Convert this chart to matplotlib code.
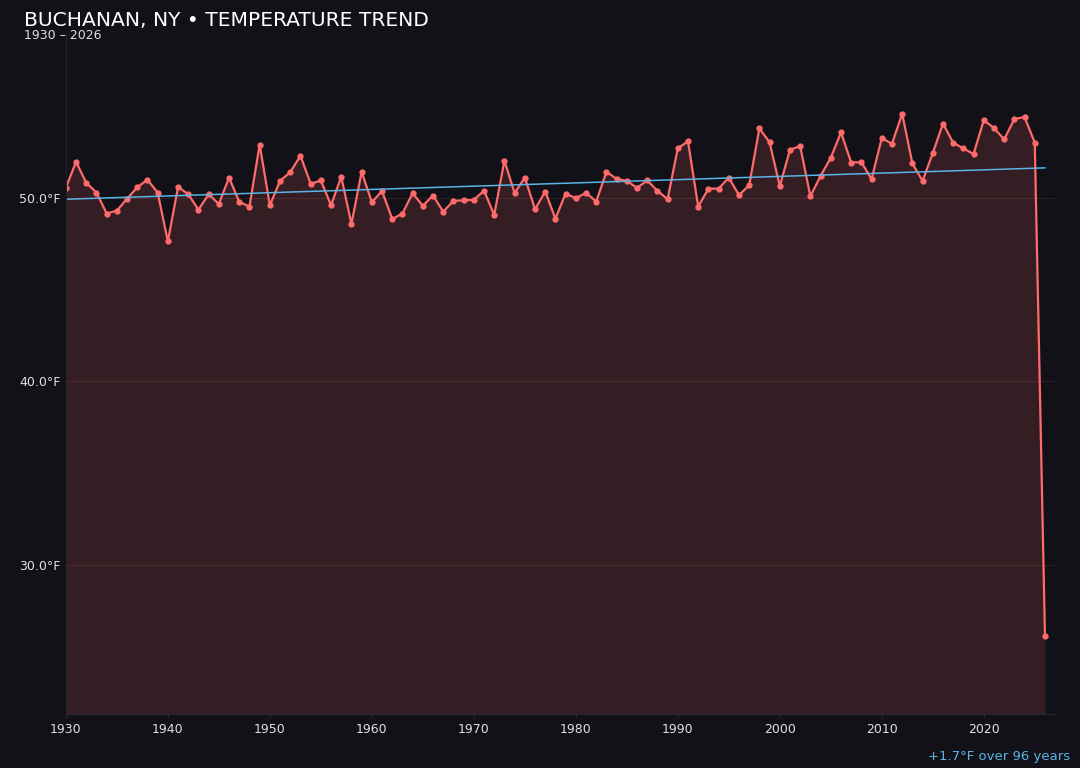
import numpy as np
import matplotlib
matplotlib.use('Agg')
import matplotlib.pyplot as plt

#==========Data==========
years = np.arange(1930, 2027)
temps = [50.53, 51.95, 50.80, 50.27, 49.13, 49.29, 49.93, 50.56, 50.97, 50.27,
         47.61, 50.58, 50.18, 49.34, 50.18, 49.65, 51.09, 49.76, 49.51, 52.88,
         49.58, 50.91, 51.38, 52.28, 50.75, 50.93, 49.58, 51.13, 48.56, 51.40,
         49.75, 50.35, 48.83, 49.13, 50.24, 49.55, 50.11, 49.23, 49.82, 49.85,
         49.87, 50.38, 49.05, 52.01, 50.24, 51.09, 49.36, 50.33, 48.85, 50.22,
         49.96, 50.26, 49.78, 51.40, 51.02, 50.91, 50.53, 50.93, 50.37, 49.91,
         52.69, 53.06, 49.51, 50.48, 50.49, 51.08, 50.13, 50.67, 53.77, 53.01,
         50.62, 52.61, 52.80, 50.07, 51.18, 52.17, 53.55, 51.91, 51.93, 51.00,
         53.24, 52.93, 54.57, 51.86, 50.91, 52.42, 54.03, 52.99, 52.68, 52.37,
         54.22, 53.79, 53.17, 54.28, 54.39, 52.99, 26.12]
temps = np.array(temps)

bg = '#121117'
line_col = '#ff6b6b'
trend_col = '#5ab4e5'

#==========Plot building==========
fig = plt.figure(figsize=(10.8, 7.68), dpi=100)
fig.patch.set_facecolor(bg)
ax = fig.add_axes([0.061, 0.0703, 0.916, 0.887])
ax.set_facecolor(bg)

rng = temps.max() - temps.min()
ymin = temps.min() - 0.15 * rng
ymax = temps.max() + 0.155 * rng

ax.fill_between(years, temps, ymin, color=line_col, alpha=0.15, linewidth=0)
ax.plot(years, temps, '-', color=line_col, linewidth=1.6, marker='o', markersize=3.5)

# trend line
coef = np.polyfit(years, temps, 1)
trend = np.polyval(coef, years)
ax.plot(years, trend, color=trend_col, linewidth=1.1)

ax.set_xlim(1930, 2027)
ax.set_ylim(ymin, ymax)
ax.set_yticks([30, 40, 50])
ax.yaxis.set_major_formatter(matplotlib.ticker.FuncFormatter(lambda v, p: f'{v:.1f}°F'))
ax.set_xticks(np.arange(1930, 2030, 10))

ax.grid(axis='y', color='#2a2226', linewidth=0.8)
ax.set_axisbelow(True)
for s in ['top', 'right']:
    ax.spines[s].set_visible(False)
ax.spines['left'].set_color('#24232a')
ax.spines['bottom'].set_color('#2a2930')
ax.tick_params(axis='y', length=0, colors='#e0e0e0', labelsize=9, pad=4)
ax.tick_params(axis='x', length=3, colors='#2a2930', labelcolor='#e0e0e0', labelsize=9)

#==========Text==========
fig.text(0.022, 0.973, 'BUCHANAN, NY • TEMPERATURE TREND', color='white', fontsize=14.6, va='center')
fig.text(0.022, 0.954, '1930 – 2026', color='#e0e0e0', fontsize=9, va='center')
change = trend[-1] - trend[0]
fig.text(0.991, 0.007, f'{change:+.1f}°F over {years[-1] - years[0]} years', color=trend_col,
         fontsize=9.5, ha='right', va='bottom')

fig.savefig('out.png', dpi=100, facecolor=bg)
print("Completed")
